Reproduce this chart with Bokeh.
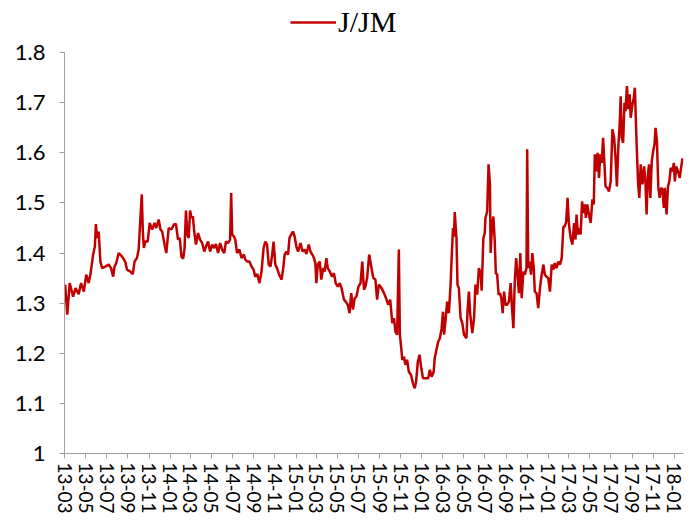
import pandas as pd
from bokeh.plotting import figure
from bokeh.models import (Range1d, FixedTicker, DatetimeTickFormatter, AllLabels,
                          CustomJSTickFormatter, Legend, ColumnDataSource)
from bokeh.embed import file_html
from bokeh.resources import INLINE

# ---------------- data ----------------
dates_2013 = ["2013-03-03", "2013-03-09", "2013-03-16", "2013-03-26", "2013-04-02", "2013-04-11",
              "2013-04-18", "2013-04-26", "2013-05-03", "2013-05-10", "2013-05-15", "2013-05-23",
              "2013-05-28", "2013-05-31", "2013-06-03", "2013-06-08", "2013-06-13", "2013-06-18",
              "2013-06-27", "2013-07-07", "2013-07-14", "2013-07-20", "2013-07-24", "2013-07-29",
              "2013-08-05", "2013-08-15", "2013-08-24", "2013-08-29", "2013-09-08", "2013-09-15",
              "2013-09-20", "2013-09-27", "2013-10-02", "2013-10-07", "2013-10-11", "2013-10-14",
              "2013-10-17", "2013-10-21", "2013-10-28", "2013-11-03", "2013-11-10", "2013-11-17",
              "2013-11-22", "2013-11-29", "2013-12-04", "2013-12-09", "2013-12-16", "2013-12-21",
              "2013-12-28"]
vals_2013 = [1.337, 1.277, 1.34, 1.313, 1.33, 1.318,
             1.34, 1.323, 1.357, 1.34, 1.357, 1.397,
             1.413, 1.458, 1.43, 1.443, 1.383, 1.37,
             1.373, 1.377, 1.37, 1.353, 1.373, 1.38,
             1.40, 1.393, 1.383, 1.367, 1.363, 1.358,
             1.383, 1.39, 1.407, 1.47, 1.517, 1.443,
             1.41, 1.423, 1.423, 1.46, 1.447, 1.46,
             1.45, 1.467, 1.447, 1.443, 1.417, 1.40,
             1.45]

dates_2014 = ["2014-01-05", "2014-01-12", "2014-01-18", "2014-01-24", "2014-01-29", "2014-02-03",
              "2014-02-08", "2014-02-12", "2014-02-16", "2014-02-20", "2014-02-24", "2014-02-28",
              "2014-03-04", "2014-03-08", "2014-03-12", "2014-03-17", "2014-03-23", "2014-03-29",
              "2014-04-04", "2014-04-10", "2014-04-15", "2014-04-21", "2014-04-27", "2014-05-03",
              "2014-05-09", "2014-05-14", "2014-05-20", "2014-05-26", "2014-06-01", "2014-06-07",
              "2014-06-12", "2014-06-18", "2014-06-24", "2014-06-27", "2014-06-30", "2014-07-05",
              "2014-07-09", "2014-07-14", "2014-07-21", "2014-07-27", "2014-08-03", "2014-08-07",
              "2014-08-13", "2014-08-19", "2014-08-25", "2014-08-31", "2014-09-05", "2014-09-11",
              "2014-09-17", "2014-09-23", "2014-09-29", "2014-10-04", "2014-10-09", "2014-10-14",
              "2014-10-19", "2014-10-24", "2014-10-28", "2014-11-02", "2014-11-07", "2014-11-13",
              "2014-11-20", "2014-11-25", "2014-11-29", "2014-12-04", "2014-12-09", "2014-12-13",
              "2014-12-18", "2014-12-23", "2014-12-28"]
vals_2014 = [1.447, 1.457, 1.458, 1.427, 1.43, 1.393,
             1.389, 1.41, 1.485, 1.437, 1.43, 1.485,
             1.47, 1.473, 1.443, 1.417, 1.44, 1.427,
             1.42, 1.403, 1.413, 1.423, 1.403, 1.417,
             1.41, 1.418, 1.40, 1.42, 1.407, 1.40,
             1.423, 1.42, 1.427, 1.52, 1.437, 1.433,
             1.427, 1.40, 1.407, 1.39, 1.397, 1.387,
             1.383, 1.383, 1.373, 1.367, 1.353, 1.358,
             1.34, 1.363, 1.41, 1.423, 1.417, 1.377,
             1.373, 1.397, 1.423, 1.377, 1.37, 1.357,
             1.347, 1.37, 1.397, 1.403, 1.397, 1.43,
             1.437, 1.443, 1.433]

dates_2015 = ["2015-01-02", "2015-01-07", "2015-01-14", "2015-01-20", "2015-01-26", "2015-01-31",
              "2015-02-07", "2015-02-12", "2015-02-17", "2015-02-22", "2015-02-26", "2015-03-01",
              "2015-03-05", "2015-03-11", "2015-03-15", "2015-03-21", "2015-03-25", "2015-03-30",
              "2015-04-03", "2015-04-09", "2015-04-15", "2015-04-21", "2015-04-26", "2015-05-02",
              "2015-05-08", "2015-05-14", "2015-05-20", "2015-05-25", "2015-05-31", "2015-06-05",
              "2015-06-10", "2015-06-15", "2015-06-20", "2015-06-25", "2015-07-01", "2015-07-07",
              "2015-07-12", "2015-07-17", "2015-07-21", "2015-07-26", "2015-08-01", "2015-08-07",
              "2015-08-13", "2015-08-19", "2015-08-24", "2015-08-29", "2015-09-06", "2015-09-13",
              "2015-09-19", "2015-09-25", "2015-10-01", "2015-10-07", "2015-10-12", "2015-10-16",
              "2015-10-21", "2015-10-26", "2015-10-29", "2015-11-02", "2015-11-05", "2015-11-10",
              "2015-11-14", "2015-11-19", "2015-11-24", "2015-11-30", "2015-12-06", "2015-12-11",
              "2015-12-15", "2015-12-20", "2015-12-25", "2015-12-30"]
vals_2015 = [1.413, 1.403, 1.42, 1.403, 1.407, 1.398,
             1.417, 1.403, 1.397, 1.39, 1.38, 1.34,
             1.377, 1.383, 1.347, 1.37, 1.363, 1.39,
             1.37, 1.363, 1.353, 1.36, 1.34, 1.333,
             1.34, 1.327, 1.307, 1.303, 1.297, 1.28,
             1.32, 1.287, 1.31, 1.313, 1.333, 1.34,
             1.383, 1.327, 1.333, 1.35, 1.397, 1.373,
             1.35, 1.347, 1.307, 1.337, 1.33, 1.32,
             1.31, 1.297, 1.307, 1.26, 1.27, 1.243,
             1.237, 1.407, 1.237, 1.21, 1.187, 1.193,
             1.177, 1.187, 1.163, 1.157, 1.14, 1.13,
             1.143, 1.183, 1.197, 1.17]

dates_2016 = ["2016-01-04", "2016-01-11", "2016-01-19", "2016-01-24", "2016-01-29", "2016-02-04",
              "2016-02-07", "2016-02-12", "2016-02-17", "2016-02-22", "2016-02-27", "2016-03-02",
              "2016-03-05", "2016-03-09", "2016-03-14", "2016-03-19", "2016-03-24", "2016-03-27",
              "2016-03-31", "2016-04-03", "2016-04-05", "2016-04-10", "2016-04-13", "2016-04-17",
              "2016-04-22", "2016-04-27", "2016-05-02", "2016-05-09", "2016-05-12", "2016-05-16",
              "2016-05-20", "2016-05-26", "2016-05-31", "2016-06-04", "2016-06-09", "2016-06-14",
              "2016-06-19", "2016-06-22", "2016-06-27", "2016-07-01", "2016-07-03", "2016-07-08",
              "2016-07-12", "2016-07-16", "2016-07-18", "2016-07-22", "2016-07-26", "2016-07-30",
              "2016-08-02", "2016-08-06", "2016-08-10", "2016-08-14", "2016-08-18", "2016-08-22",
              "2016-08-26", "2016-08-30", "2016-09-04", "2016-09-09", "2016-09-14", "2016-09-18",
              "2016-09-22", "2016-09-26", "2016-09-30", "2016-10-04", "2016-10-08", "2016-10-12",
              "2016-10-16", "2016-10-21", "2016-10-25", "2016-10-30", "2016-11-01", "2016-11-04",
              "2016-11-08", "2016-11-12", "2016-11-16", "2016-11-20", "2016-11-23", "2016-11-28",
              "2016-12-03", "2016-12-08", "2016-12-13", "2016-12-18", "2016-12-22", "2016-12-27"]
vals_2016 = [1.15, 1.15, 1.15, 1.167, 1.153, 1.163,
             1.19, 1.207, 1.223, 1.23, 1.25, 1.283,
             1.237, 1.263, 1.303, 1.28, 1.337, 1.39,
             1.45, 1.433, 1.482, 1.43, 1.337, 1.33,
             1.27, 1.26, 1.237, 1.23, 1.283, 1.323,
             1.277, 1.24, 1.27, 1.337, 1.317, 1.37,
             1.36, 1.325, 1.43, 1.44, 1.47, 1.483,
             1.577, 1.537, 1.40, 1.453, 1.473, 1.423,
             1.36, 1.357, 1.317, 1.32, 1.31, 1.28,
             1.323, 1.297, 1.297, 1.303, 1.34, 1.29,
             1.25, 1.343, 1.39, 1.357, 1.32, 1.40,
             1.31, 1.363, 1.357, 1.37, 1.607, 1.37,
             1.383, 1.357, 1.40, 1.37, 1.323, 1.32,
             1.29, 1.33, 1.357, 1.377, 1.357, 1.353]

dates_2017 = ["2017-01-01", "2017-01-06", "2017-01-11", "2017-01-16", "2017-01-20", "2017-01-25",
              "2017-01-30", "2017-02-04", "2017-02-09", "2017-02-14", "2017-02-18", "2017-02-22",
              "2017-02-26", "2017-03-02", "2017-03-07", "2017-03-12", "2017-03-17", "2017-03-21",
              "2017-03-24", "2017-03-28", "2017-04-02", "2017-04-05", "2017-04-09", "2017-04-13",
              "2017-04-17", "2017-04-20", "2017-04-24", "2017-04-29", "2017-05-04", "2017-05-09",
              "2017-05-13", "2017-05-16", "2017-05-21", "2017-05-24", "2017-05-28", "2017-06-01",
              "2017-06-05", "2017-06-09", "2017-06-13", "2017-06-16", "2017-06-21", "2017-06-26",
              "2017-07-01", "2017-07-06", "2017-07-11", "2017-07-15", "2017-07-19", "2017-07-23",
              "2017-07-27", "2017-07-30", "2017-08-02", "2017-08-06", "2017-08-10", "2017-08-13",
              "2017-08-17", "2017-08-21", "2017-08-25", "2017-08-28", "2017-09-02", "2017-09-06",
              "2017-09-09", "2017-09-14", "2017-09-16", "2017-09-19", "2017-09-22", "2017-09-26",
              "2017-10-01", "2017-10-06", "2017-10-10", "2017-10-13", "2017-10-17", "2017-10-20",
              "2017-10-24", "2017-10-28", "2017-11-01", "2017-11-05", "2017-11-08", "2017-11-12",
              "2017-11-16", "2017-11-20", "2017-11-24", "2017-11-28", "2017-12-02", "2017-12-05",
              "2017-12-10", "2017-12-14", "2017-12-18", "2017-12-22", "2017-12-27", "2017-12-31"]
vals_2017 = [1.35, 1.323, 1.377, 1.367, 1.38, 1.37,
             1.383, 1.377, 1.39, 1.453, 1.453, 1.463,
             1.51, 1.457, 1.43, 1.417, 1.46, 1.427,
             1.477, 1.437, 1.45, 1.437, 1.503, 1.48,
             1.497, 1.47, 1.497, 1.477, 1.46, 1.507,
             1.497, 1.597, 1.563, 1.60, 1.55, 1.597,
             1.58, 1.63, 1.577, 1.533, 1.53, 1.523,
             1.543, 1.647, 1.63, 1.59, 1.533, 1.61,
             1.657, 1.713, 1.63, 1.62, 1.70, 1.683,
             1.733, 1.687, 1.717, 1.67, 1.697, 1.71,
             1.73, 1.62, 1.583, 1.533, 1.51, 1.577,
             1.537, 1.573, 1.537, 1.477, 1.557, 1.577,
             1.51, 1.583, 1.603, 1.617, 1.65, 1.623,
             1.53, 1.51, 1.53, 1.527, 1.49, 1.53,
             1.477, 1.533, 1.543, 1.57, 1.563, 1.58]

dates_2018 = ["2018-01-03", "2018-01-07", "2018-01-12", "2018-01-17", "2018-01-21", "2018-01-25"]
vals_2018 = [1.543, 1.573, 1.563, 1.55, 1.57, 1.589]

series_name = "J/JM"
tick_months = ["2013-03", "2013-05", "2013-07", "2013-09", "2013-11",
               "2014-01", "2014-03", "2014-05", "2014-07", "2014-09", "2014-11",
               "2015-01", "2015-03", "2015-05", "2015-07", "2015-09", "2015-11",
               "2016-01", "2016-03", "2016-05", "2016-07", "2016-09", "2016-11",
               "2017-01", "2017-03", "2017-05", "2017-07", "2017-09", "2017-11",
               "2018-01"]
y_ticks = [1.0, 1.1, 1.2, 1.3, 1.4, 1.5, 1.6, 1.7, 1.8]
y_min, y_max = 1.0, 1.8
x_start, x_end = "2013-03-01", "2018-01-28"

# ---------------- build ----------------
all_dates = dates_2013 + dates_2014 + dates_2015 + dates_2016 + dates_2017 + dates_2018
all_vals = vals_2013 + vals_2014 + vals_2015 + vals_2016 + vals_2017 + vals_2018
src = ColumnDataSource(dict(d=pd.to_datetime(all_dates), v=all_vals))

def ms(s):
    return pd.Timestamp(s).value / 1e6

# headroom above 1.8 holds the legend (the axis line itself stops at 1.8)
p = figure(width=697, height=528, output_backend="svg", toolbar_location=None,
           x_axis_type="datetime",
           x_range=Range1d(ms(x_start), ms(x_end)),
           y_range=Range1d(y_min, y_max + 0.096),
           min_border_left=64, min_border_right=14, min_border_top=4, min_border_bottom=75)
p.outline_line_color = None
p.background_fill_color = "white"
p.border_fill_color = "white"
p.xgrid.visible = False
p.ygrid.visible = False

r = p.line("d", "v", source=src, line_color="#C00000", line_width=2.5)

axis_col = "#A0A0A0"
font = "Lato"

p.yaxis.bounds = (y_min, y_max)
p.yaxis.ticker = FixedTicker(ticks=y_ticks)
p.yaxis.formatter = CustomJSTickFormatter(code="return (Math.round(tick*10)/10).toString();")
p.yaxis.axis_line_color = axis_col
p.yaxis.major_tick_line_color = axis_col
p.yaxis.minor_tick_line_color = None
p.yaxis.major_tick_out = 5
p.yaxis.major_tick_in = 0
p.yaxis.major_label_standoff = 14
p.yaxis.major_label_text_font = font
p.yaxis.major_label_text_font_size = "22px"
p.yaxis.major_label_text_color = "#000000"

p.xaxis.ticker = FixedTicker(ticks=[ms(m + "-01") for m in tick_months])
fmt = "%y-%m"
p.xaxis.formatter = DatetimeTickFormatter(years=fmt, months=fmt, days=fmt, hours=fmt,
                                          hourmin=fmt, minutes=fmt, minsec=fmt,
                                          seconds=fmt, milliseconds=fmt, microseconds=fmt)
p.xaxis.major_label_policy = AllLabels()
p.xaxis.axis_line_color = axis_col
p.xaxis.major_tick_line_color = axis_col
p.xaxis.minor_tick_line_color = None
p.xaxis.major_tick_out = 5
p.xaxis.major_tick_in = 0
p.xaxis.major_label_standoff = 4
p.xaxis.major_label_orientation = "vertical"
p.xaxis.major_label_text_font = font
p.xaxis.major_label_text_font_size = "19px"
p.xaxis.major_label_text_color = "#000000"

legend = Legend(items=[(series_name, [r])], orientation="horizontal", location=(226, 414),
                label_text_font="Liberation Serif", label_text_font_size="30px",
                label_text_color="#000000", glyph_width=46, glyph_height=22,
                label_standoff=2, padding=0, margin=0, spacing=0,
                border_line_color=None, background_fill_alpha=0)
p.add_layout(legend, "center")

open("out.html", "w").write(file_html(p, INLINE))
